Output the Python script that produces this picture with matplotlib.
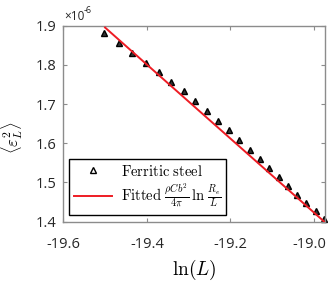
import matplotlib
matplotlib.use("Agg")
import matplotlib.pyplot as plt
import matplotlib.transforms as mtransforms
from matplotlib.lines import Line2D

plt.rcParams['mathtext.fontset'] = 'cm'
plt.rcParams['font.family'] = ['Open Sans', 'DejaVu Sans']

# data (strain values in units of 1e-6)
ln_L = [-19.502, -19.467, -19.435, -19.403, -19.372, -19.342, -19.312,
        -19.284, -19.257, -19.229, -19.204, -19.179, -19.154, -19.130,
        -19.107, -19.084, -19.062, -19.040, -19.018, -18.996, -18.976]
eps2 = [1.880, 1.855, 1.829, 1.805, 1.781, 1.756, 1.732,
        1.707, 1.683, 1.657, 1.633, 1.609, 1.584, 1.560,
        1.537, 1.514, 1.492, 1.469, 1.448, 1.427, 1.408]

fit_x = [-19.500, -18.975]
fit_y = [1.895, 1.400]

xticks = [-19.6, -19.4, -19.2, -19.0]
xticklabels = ['-19.6', '-19.4', '-19.2', '-19.0']
yticks = [1.4, 1.5, 1.6, 1.7, 1.8, 1.9]

spine_col = '#8c8c8c'

fig = plt.figure(figsize=(3.28, 2.81), dpi=100)
ax = fig.add_axes([0.193, 0.211, 0.797, 0.698])

ax.plot(ln_L, eps2, linestyle='none', marker='^', markersize=5,
        markerfacecolor='#333333', markeredgecolor='black', markeredgewidth=1.0,
        zorder=2, clip_on=False)
ax.plot(fit_x, fit_y, color='#ee1c24', linewidth=1.4, zorder=3)

ax.set_xlim(-19.6, -18.974)
ax.set_ylim(1.4, 1.9)
ax.set_xticks(xticks)
ax.set_xticklabels(xticklabels)
ax.set_yticks(yticks)
ax.set_yticklabels([f'{v:.1f}' for v in yticks])

for s in ax.spines.values():
    s.set_color(spine_col)
    s.set_linewidth(1.0)
ax.tick_params(direction='in', length=3, width=0.8, color=spine_col,
               top=True, right=True, labelsize=10.5, labelcolor='#262626')
ax.tick_params(axis='x', pad=11)
ax.tick_params(axis='y', pad=5)

# keep the last x tick label inside the canvas
last = ax.get_xticklabels()[-1]
last.set_transform(last.get_transform() +
                   mtransforms.ScaledTranslation(-3 / 72, 0, fig.dpi_scale_trans))

# exponent label above the y axis
fig.text(0.197, 0.930, '\u00d710', fontsize=8.5, color='#262626',
         ha='left', va='baseline')
fig.text(0.256, 0.953, '-6', fontsize=6.5, color='#262626',
         ha='left', va='baseline')

ax.set_xlabel(r'$\ln(L)$', fontsize=14, labelpad=4)
ax.set_ylabel(r'$\langle\varepsilon_L^2\rangle$', fontsize=12)
ax.yaxis.set_label_coords(-0.145, 0.43)

handles = [
    Line2D([], [], linestyle='none', marker='^', markersize=4,
           markerfacecolor='none', markeredgecolor='black', markeredgewidth=1.0),
    Line2D([], [], color='#ee1c24', linewidth=1.4),
]
labels = [r'$\mathrm{Ferritic\ steel}$',
          r'$\mathrm{Fitted}\ \frac{\rho C b^2}{4\pi}\,\ln\,\frac{R_e}{L}$']
leg = ax.legend(handles, labels, loc='lower left', bbox_to_anchor=(0.023, 0.033),
                fontsize=10.5, frameon=True, fancybox=False, edgecolor='black',
                framealpha=1, handlelength=2.6, handletextpad=0.6,
                borderpad=0.35, labelspacing=0.15, borderaxespad=0)
leg.get_frame().set_linewidth(1.0)

fig.savefig('out.png', dpi=100)
